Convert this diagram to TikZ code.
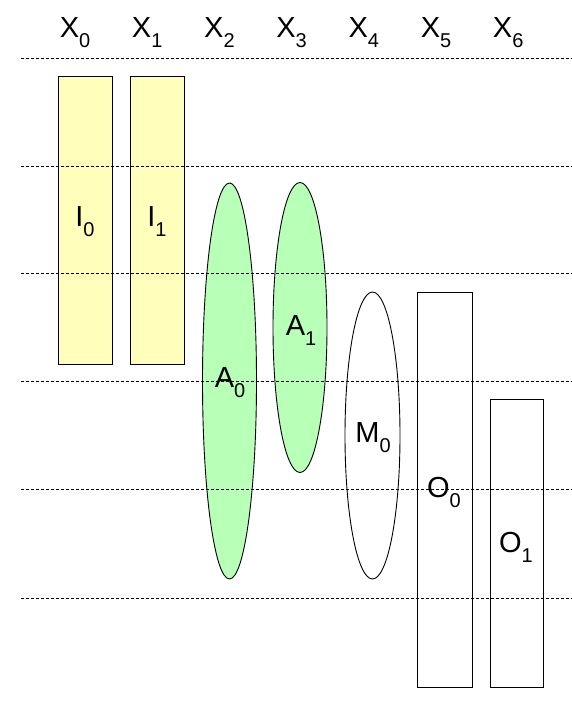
\documentclass[tikz,border=0pt]{standalone}
\usepackage{fontspec}
\setmainfont{Liberation Sans}
\usetikzlibrary{shapes.geometric}
\definecolor{ylw}{HTML}{FFFFBB}
\definecolor{grn}{HTML}{B8FFB8}
\newcommand\lbl[2]{\fontsize{29}{31}\selectfont #1\raisebox{-10pt}{\fontsize{20}{21}\selectfont #2}}
\tikzset{
  bar/.style={draw=black, line width=0.9pt, rectangle, inner sep=0pt, outer sep=0pt},
  oval/.style={draw=black, line width=0.9pt, ellipse, inner sep=0pt, outer sep=0pt},
  grid/.style={draw=black, line width=0.8pt, dash pattern=on 3pt off 2pt},
  txt/.style={inner sep=0pt, text=black}
}
\begin{document}
\begin{tikzpicture}[x=1pt, y=-1pt]
\useasboundingbox (0,0) rectangle (572,704);
\fill[white] (0,0) rectangle (572,704);
% shapes
\node[bar, fill=ylw, minimum width=54pt, minimum height=288pt] (I0) at (85,220) {};
\node[bar, fill=ylw, minimum width=54pt, minimum height=288pt] (I1) at (157,220) {};
\node[oval, fill=grn, minimum width=54pt, minimum height=396pt] (A0) at (229.5,381) {};
\node[oval, fill=grn, minimum width=54pt, minimum height=290pt] (A1) at (300,327.5) {};
\node[oval, fill=white, minimum width=55pt, minimum height=287pt] (M0) at (372.5,435.5) {};
\node[bar, fill=white, minimum width=55pt, minimum height=395pt] (O0) at (444.5,489.5) {};
\node[bar, fill=white, minimum width=53pt, minimum height=288pt] (O1) at (516.5,543) {};
% dashed lines
\foreach \y [count=\k] in {58,166,273,381,489,598} {
  \coordinate (L\k) at (21,\y);
  \coordinate (R\k) at (572,\y);
  \draw[grid] (L\k) -- (R\k);
}
% header labels
\foreach \i in {0,...,6} {
  \node[txt] (X\i) at ({75+72.2*\i},33) {\lbl{X}{\i}};
}
% shape labels
\node[txt] (tI0) at (85,222) {\lbl{I}{0}};
\node[txt] (tI1) at (157,222) {\lbl{I}{1}};
\node[txt] (tA0) at (230,383) {\lbl{A}{0}};
\node[txt] (tA1) at (301,331) {\lbl{A}{1}};
\node[txt] (tM0) at (373,438) {\lbl{M}{0}};
\node[txt] (tO0) at (444,492) {\lbl{O}{0}};
\node[txt] (tO1) at (516,547) {\lbl{O}{1}};
\end{tikzpicture}
\end{document}
